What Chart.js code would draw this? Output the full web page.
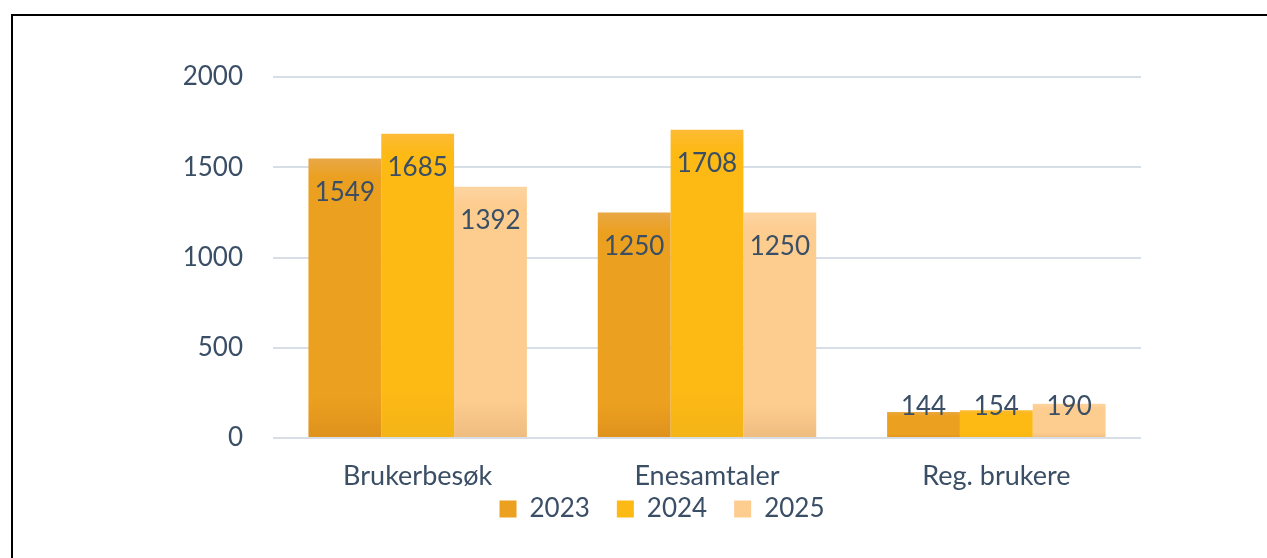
<!DOCTYPE html>
<html>
<head>
<meta charset="utf-8">
<script src="https://cdn.jsdelivr.net/npm/chart.js@4"></script>
<style>
  html, body { margin: 0; padding: 0; background: #fff; overflow: hidden; }
  #frame { position: absolute; left: 11px; top: 14px; width: 1300px; height: 600px; border: 2px solid #000; box-sizing: border-box; }
  #chart { position: absolute; left: 0; top: 0; }
</style>
</head>
<body>
<div id="frame"></div>
<canvas id="chart" width="1267" height="558"></canvas>
<script>
var categories = ['Brukerbesøk', 'Enesamtaler', 'Reg. brukere'];
var years = ['2023', '2024', '2025'];
var values2023 = [1549, 1250, 144];
var values2024 = [1685, 1708, 154];
var values2025 = [1392, 1250, 190];
var yTicks = [0, 500, 1000, 1500, 2000];

var textColor = '#3a4e65';
var gridColor = '#d8dee6';

// farger: topp, midt, bunn
var colors2023 = ['#e8a846', '#eca01f', '#df921c'];
var colors2024 = ['#fdbb36', '#fdb914', '#f4b418'];
var colors2025 = ['#fdd4a0', '#fdcc8f', '#efbc80'];

function barGradient(cols) {
    return function (context) {
        var chart = context.chart;
        if (!chart.chartArea || context.type !== 'data') return cols[1];
        var y = chart.scales.y;
        var top = y.getPixelForValue(context.raw);
        var bottom = y.getPixelForValue(0);
        if (bottom - top < 1) return cols[1];
        var g = chart.ctx.createLinearGradient(0, top, 0, bottom);
        g.addColorStop(0, cols[0]);
        g.addColorStop(Math.min(0.15, 20 / (bottom - top)), cols[1]);
        g.addColorStop(0.85, cols[1]);
        g.addColorStop(1, cols[2]);
        return g;
    };
}

// tall inne i toppen av søylene
var valueLabels = {
    id: 'valueLabels',
    afterDatasetsDraw: function (chart) {
        var ctx = chart.ctx;
        var base = chart.scales.y.getPixelForValue(0);
        ctx.save();
        ctx.font = '26px Lato';
        ctx.fillStyle = textColor;
        ctx.textAlign = 'center';
        ctx.textBaseline = 'middle';
        chart.data.datasets.forEach(function (ds, i) {
            chart.getDatasetMeta(i).data.forEach(function (bar, j) {
                var y = (base - bar.y > 70) ? bar.y + 34 : base - 31;
                ctx.fillText(String(ds.data[j]), bar.x, y);
            });
        });
        ctx.restore();
    }
};

// x-aksen er gjort lav så legenden kommer nær, men etikettene skal ikke klippes
var unclipX = {
    id: 'unclipX',
    afterLayout: function (chart) {
        var x = chart.scales.x;
        x.bottom += 40;
        x.height += 40;
    }
};

var allColors = [colors2023, colors2024, colors2025];
var allValues = [values2023, values2024, values2025];

var ctx = document.getElementById('chart').getContext('2d');
var chart = new Chart(ctx, {
    type: 'bar',
    data: {
        labels: categories,
        datasets: years.map(function (yr, i) {
            return {
                label: yr,
                data: allValues[i],
                backgroundColor: barGradient(allColors[i]),
                borderWidth: 0,
                barPercentage: 1,
                categoryPercentage: 0.755
            };
        })
    },
    options: {
        responsive: false,
        animation: false,
        layout: { padding: { left: 183, right: 126, top: 77, bottom: 26 } },
        scales: {
            x: {
                grid: { display: false, drawTicks: false },
                border: { display: false },
                ticks: { color: textColor, font: { family: 'Lato', size: 27 }, padding: 22 },
                afterFit: function (scale) { scale.height = 31; }
            },
            y: {
                min: 0,
                max: 2000,
                afterBuildTicks: function (scale) {
                    scale.ticks = yTicks.map(function (v) { return { value: v }; });
                },
                afterFit: function (scale) { scale.width = 90; },
                grid: { color: gridColor, lineWidth: 2, drawTicks: false },
                border: { display: false },
                ticks: {
                    color: textColor,
                    font: { family: 'Lato', size: 26 },
                    padding: 30,
                    callback: function (v) { return String(v); }
                }
            }
        },
        plugins: {
            tooltip: { enabled: false },
            legend: {
                position: 'bottom',
                labels: {
                    color: textColor,
                    font: { family: 'Lato', size: 26 },
                    boxWidth: 17,
                    boxHeight: 17,
                    padding: 27,
                    generateLabels: function (c) {
                        return c.data.datasets.map(function (ds, i) {
                            return {
                                text: ds.label,
                                fillStyle: allColors[i][1],
                                strokeStyle: allColors[i][1],
                                lineWidth: 0,
                                fontColor: textColor,
                                datasetIndex: i
                            };
                        });
                    }
                }
            }
        }
    },
    plugins: [valueLabels, unclipX]
});
</script>
</body>
</html>
